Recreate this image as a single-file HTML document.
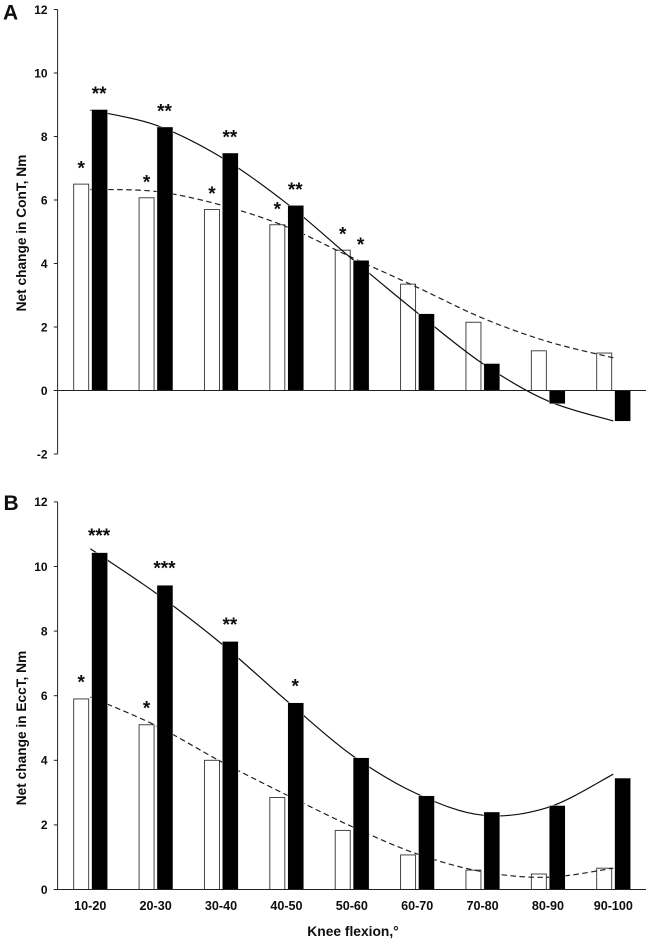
<!DOCTYPE html>
<html lang="en">
<head>
<meta charset="utf-8">
<title>Net change in ConT and EccT by knee flexion</title>
<style>
html,body{margin:0;padding:0;background:#fff;width:649px;height:943px;overflow:hidden}
svg{display:block;font-family:"Liberation Sans",Arial,sans-serif}
text{fill:#111}
</style>
</head>
<body>
<svg id="chart" xmlns="http://www.w3.org/2000/svg" width="649" height="943" viewBox="0 0 649 943">
  <defs><filter id="soft" x="-2%" y="-2%" width="104%" height="104%"><feGaussianBlur stdDeviation="0.3"/></filter></defs>
  <g id="root" filter="url(#soft)"></g>
</svg>
<script>
const categories = ['10-20','20-30','30-40','40-50','50-60','60-70','70-80','80-90','90-100'];
const yTicksA = [-2,0,2,4,6,8,10,12];
const yTicksB = [0,2,4,6,8,10,12];
const whiteBarsA = [6.5,6.07,5.7,5.22,4.42,3.35,2.15,1.25,1.18];
const blackBarsA = [8.85,8.3,7.48,5.83,4.1,2.42,0.85,-0.42,-0.97];
const dashedTrendA = [6.33,6.27,5.84,5.16,4.19,3.25,2.28,1.54,1.03];
const solidTrendA = [8.83,8.36,7.35,5.9,4.15,2.45,0.85,-0.33,-0.96];
const whiteStarsA = ['*','*','*','*','*','','','',''];
const blackStarsA = ['**','**','**','**','*','','','',''];
const whiteBarsB = [5.9,5.1,4.0,2.85,1.83,1.07,0.6,0.48,0.66];
const blackBarsB = [10.43,9.42,7.68,5.78,4.08,2.9,2.4,2.6,3.45];
const dashedTrendB = [5.96,5.08,3.96,2.93,1.95,1.1,0.55,0.38,0.66];
const solidTrendB = [10.55,9.18,7.62,5.85,4.16,2.96,2.3,2.54,3.57];
const whiteStarsB = ['*','*','','','','','','',''];
const blackStarsB = ['***','***','**','*','','','','',''];

const NS = 'http://www.w3.org/2000/svg';
const root = document.getElementById('root');

function make(tag, attrs, parent) {
  const el = document.createElementNS(NS, tag);
  for (const k in attrs) el.setAttribute(k, attrs[k]);
  parent.appendChild(el);
  return el;
}

const plotLeft = 57.6, plotRight = 646;
const bandWidth = (plotRight - plotLeft) / categories.length;
function xCenter(i) { return plotLeft + bandWidth * (i + 0.5); }

function splinePath(values, xf, yf) {
  const pts = values.map((v, i) => [xf(i), yf(v)]);
  let d = 'M' + pts[0][0].toFixed(2) + ' ' + pts[0][1].toFixed(2);
  for (let i = 0; i < pts.length - 1; i++) {
    const p0 = pts[Math.max(0, i - 1)], p1 = pts[i], p2 = pts[i + 1], p3 = pts[Math.min(pts.length - 1, i + 2)];
    const c1x = p1[0] + (p2[0] - p0[0]) / 6, c1y = p1[1] + (p2[1] - p0[1]) / 6;
    const c2x = p2[0] - (p3[0] - p1[0]) / 6, c2y = p2[1] - (p3[1] - p1[1]) / 6;
    d += 'C' + [c1x, c1y, c2x, c2y, p2[0], p2[1]].map(n => n.toFixed(2)).join(' ');
  }
  return d;
}

function drawPanel(cfg) {
  const y = v => cfg.y0 - v * cfg.unit;
  const panel = make('g', {}, root);
  
  

  const letter = make('text', {x: cfg.letterX, y: cfg.letterY, 'font-size': 21, 'font-weight': 700}, panel);
  letter.textContent = cfg.letter;
  
  

  const title = make('text', {x: 0, y: 0, 'font-size': 13.7, 'font-weight': 700, 'text-anchor': 'middle', transform: 'translate(26 ' + cfg.titleY + ') rotate(-90)'}, panel);
  title.textContent = cfg.title;
  
  

  cfg.ticks.forEach(t => {
    const tick = make('line', {x1: plotLeft - 3.8, x2: plotLeft, y1: y(t), y2: y(t), stroke: '#222', 'stroke-width': 1}, panel);
    
    
    const lab = make('text', {x: plotLeft - 10, y: y(t) + 4.3, 'font-size': 12, 'font-weight': 700, 'text-anchor': 'end'}, panel);
    lab.textContent = t;
    
    
  });

  const barW = 15;
  const whiteX = i => xCenter(i) - 16.6;
  const blackX = i => xCenter(i) + 1.3;

  cfg.white.forEach((v, i) => {
    const top = Math.min(y(v), y(0)), h = Math.abs(y(v) - y(0));
    const bar = make('rect', {x: whiteX(i), y: top, width: barW, height: h, fill: '#fff', stroke: '#333', 'stroke-width': 0.9}, panel);
    
    
  });

  const dashed = make('path', {d: splinePath(cfg.dashed, xCenter, y), fill: 'none', stroke: '#222', 'stroke-width': 1.2, 'stroke-dasharray': '5.5 3.5'}, panel);
  
  
  const solid = make('path', {d: splinePath(cfg.solid, xCenter, y), fill: 'none', stroke: '#111', 'stroke-width': 1.2}, panel);
  
  

  cfg.black.forEach((v, i) => {
    const top = Math.min(y(v), y(0)), h = Math.abs(y(v) - y(0));
    const bar = make('rect', {x: blackX(i), y: top, width: barW + 1, height: h, fill: '#000', stroke: '#fff', 'stroke-width': 0.4}, panel);
    
    
  });

  const yAxis = make('line', {x1: plotLeft, x2: plotLeft, y1: y(cfg.ticks[cfg.ticks.length - 1]), y2: y(cfg.ticks[0]), stroke: '#222', 'stroke-width': 1}, panel);
  
  
  const xAxis = make('line', {x1: plotLeft - 3.8, x2: plotRight, y1: y(0), y2: y(0), stroke: '#222', 'stroke-width': 1.1}, panel);
  
  

  const star = (txt, v, cx) => {
    if (!txt) return;
    const s = make('text', {x: cx, y: y(v) - cfg.starGap, 'font-size': 19, 'text-anchor': 'middle', 'font-weight': 700}, panel);
    s.textContent = txt;
    
    
  };
  cfg.whiteStars.forEach((txt, i) => star(txt, cfg.white[i], whiteX(i) + barW / 2));
  cfg.blackStars.forEach((txt, i) => star(txt, cfg.black[i], blackX(i) + barW / 2));
}

drawPanel({key:'con-t', letter:'A', letterX:3, letterY:19.5, title:'Net change in ConT, Nm', titleY:233, y0:390.5, unit:31.75, ticks:yTicksA,
  white:whiteBarsA, black:blackBarsA, dashed:dashedTrendA, solid:solidTrendA, whiteStars:whiteStarsA, blackStars:blackStarsA, starGap:9.5});
drawPanel({key:'ecc-t', letter:'B', letterX:3.5, letterY:510, title:'Net change in EccT, Nm', titleY:728, y0:889.5, unit:32.3, ticks:yTicksB,
  white:whiteBarsB, black:blackBarsB, dashed:dashedTrendB, solid:solidTrendB, whiteStars:whiteStarsB, blackStars:blackStarsB, starGap:10.5});

categories.forEach((c, i) => {
  const lab = make('text', {x: xCenter(i), y: 910, 'font-size': 12.6, 'font-weight': 700, 'text-anchor': 'middle'}, root);
  lab.textContent = c;
  
  
});

const xTitle = make('text', {x: 353, y: 936, 'font-size': 13.8, 'font-weight': 700, 'text-anchor': 'middle'}, root);
xTitle.textContent = 'Knee flexion,°';


</script>
</body>
</html>
